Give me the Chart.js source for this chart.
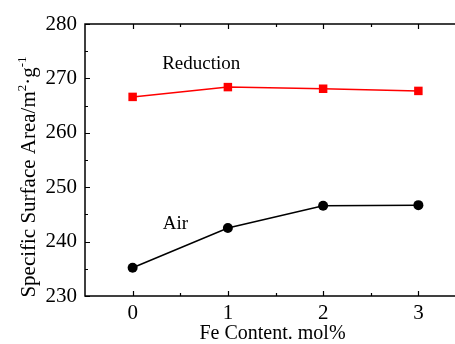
<!DOCTYPE html>
<html>
<head>
<meta charset="utf-8">
<script src="https://cdn.jsdelivr.net/npm/chart.js@4.4.1/dist/chart.umd.min.js"></script>
<style>
  html, body { margin: 0; padding: 0; background: #fff; overflow: hidden; }
  #wrap { width: 455px; height: 344px; overflow: hidden; }
</style>
</head>
<body>
<div id="wrap"><canvas id="c" width="480" height="344"></canvas></div>
<script>
// Fe content (mol%) on the x axis
const feContent = ['0', '1', '2', '3'];
// specific surface area, m2/g
const reductionArea = [266.6, 268.4, 268.1, 267.7];
const airArea = [235.2, 242.5, 246.6, 246.7];
// axis ticks
const yMajorTicks = [230, 240, 250, 260, 270, 280];
const yMinorTicks = [235, 245, 255, 265, 275];
const xMinorTicks = [0.5, 1.5, 2.5];

const SERIF = "'Liberation Serif', 'Times New Roman', serif";

// frame, inward ticks, axis titles and series captions
const framePlugin = {
  id: 'frame',
  afterDraw(chart) {
    const { ctx, chartArea: a, scales } = chart;
    const x = scales.x, y = scales.y;
    ctx.save();
    ctx.strokeStyle = '#000';
    ctx.lineWidth = 1.5;
    ctx.strokeRect(a.left, a.top, a.right - a.left, a.bottom - a.top);

    ctx.lineWidth = 1.2;
    ctx.beginPath();
    const yTick = (v, len) => {
      const py = Math.round(y.getPixelForValue(v)) + 0.5;
      ctx.moveTo(a.left, py); ctx.lineTo(a.left + len, py);
      ctx.moveTo(a.right, py); ctx.lineTo(a.right - len, py);
    };
    const xTick = (v, len) => {
      const px = Math.round(x.getPixelForValue(v)) + 0.5;
      ctx.moveTo(px, a.bottom); ctx.lineTo(px, a.bottom - len);
      ctx.moveTo(px, a.top); ctx.lineTo(px, a.top + len);
    };
    yMajorTicks.forEach(v => yTick(v, 5));
    yMinorTicks.forEach(v => yTick(v, 3));
    feContent.forEach((_, i) => xTick(i, 5));
    xMinorTicks.forEach(v => xTick(v, 3));
    ctx.stroke();

    ctx.fillStyle = '#000';
    // x axis title
    ctx.font = '20px ' + SERIF;
    ctx.textAlign = 'center';
    ctx.textBaseline = 'middle';
    ctx.fillText('Fe Content. mol%', (a.left + a.right) / 2 - 3, 334);

    // y axis title with superscripts, drawn rotated
    const main = '21px ' + SERIF, sup = '13px ' + SERIF;
    const parts = [
      ['Specific Surface Area/m', main, 0],
      ['2', sup, -9],
      ['\u00B7g', main, 0],
      ['-1', sup, -9]
    ];
    let total = 0;
    parts.forEach(p => { ctx.font = p[1]; total += ctx.measureText(p[0]).width; });
    ctx.translate(35, 177);
    ctx.rotate(-Math.PI / 2);
    ctx.textAlign = 'left';
    ctx.textBaseline = 'alphabetic';
    let cx = -total / 2;
    parts.forEach(p => {
      ctx.font = p[1];
      ctx.fillText(p[0], cx, p[2]);
      cx += ctx.measureText(p[0]).width;
    });
    ctx.restore();

    // series captions
    ctx.save();
    ctx.fillStyle = '#000';
    ctx.font = '19px ' + SERIF;
    ctx.textAlign = 'center';
    ctx.textBaseline = 'middle';
    ctx.fillText('Reduction', x.getPixelForValue(0.72), y.getPixelForValue(272.6));
    ctx.fillText('Air', x.getPixelForValue(0.45), y.getPixelForValue(243.2));
    ctx.restore();
  }
};

new Chart(document.getElementById('c'), {
  type: 'line',
  data: {
    labels: feContent,
    datasets: [
      {
        label: 'Reduction',
        data: reductionArea,
        borderColor: '#ff0000',
        backgroundColor: '#ff0000',
        borderWidth: 1.5,
        pointStyle: 'rect',
        pointRadius: 6,
        pointBorderWidth: 0,
        tension: 0
      },
      {
        label: 'Air',
        data: airArea,
        borderColor: '#000000',
        backgroundColor: '#000000',
        borderWidth: 1.5,
        pointStyle: 'circle',
        pointRadius: 5,
        pointBorderWidth: 0,
        tension: 0
      }
    ]
  },
  options: {
    responsive: false,
    animation: false,
    devicePixelRatio: 1,
    layout: { padding: { left: 0, top: 24, right: 14, bottom: 0 } },
    plugins: { legend: { display: false }, tooltip: { enabled: false } },
    scales: {
      x: {
        type: 'category',
        offset: true,
        grid: { display: false, drawTicks: false },
        border: { display: false },
        ticks: { color: '#000', font: { family: SERIF, size: 21 }, padding: 5, maxRotation: 0, autoSkip: false },
        afterFit(s) { s.height = 48; }
      },
      y: {
        min: 230,
        max: 280,
        grid: { display: false, drawTicks: false },
        border: { display: false },
        ticks: { color: '#000', font: { family: SERIF, size: 21 }, padding: 8, stepSize: 10 },
        afterFit(s) { s.width = 85; }
      }
    }
  },
  plugins: [framePlugin]
});
</script>
</body>
</html>
